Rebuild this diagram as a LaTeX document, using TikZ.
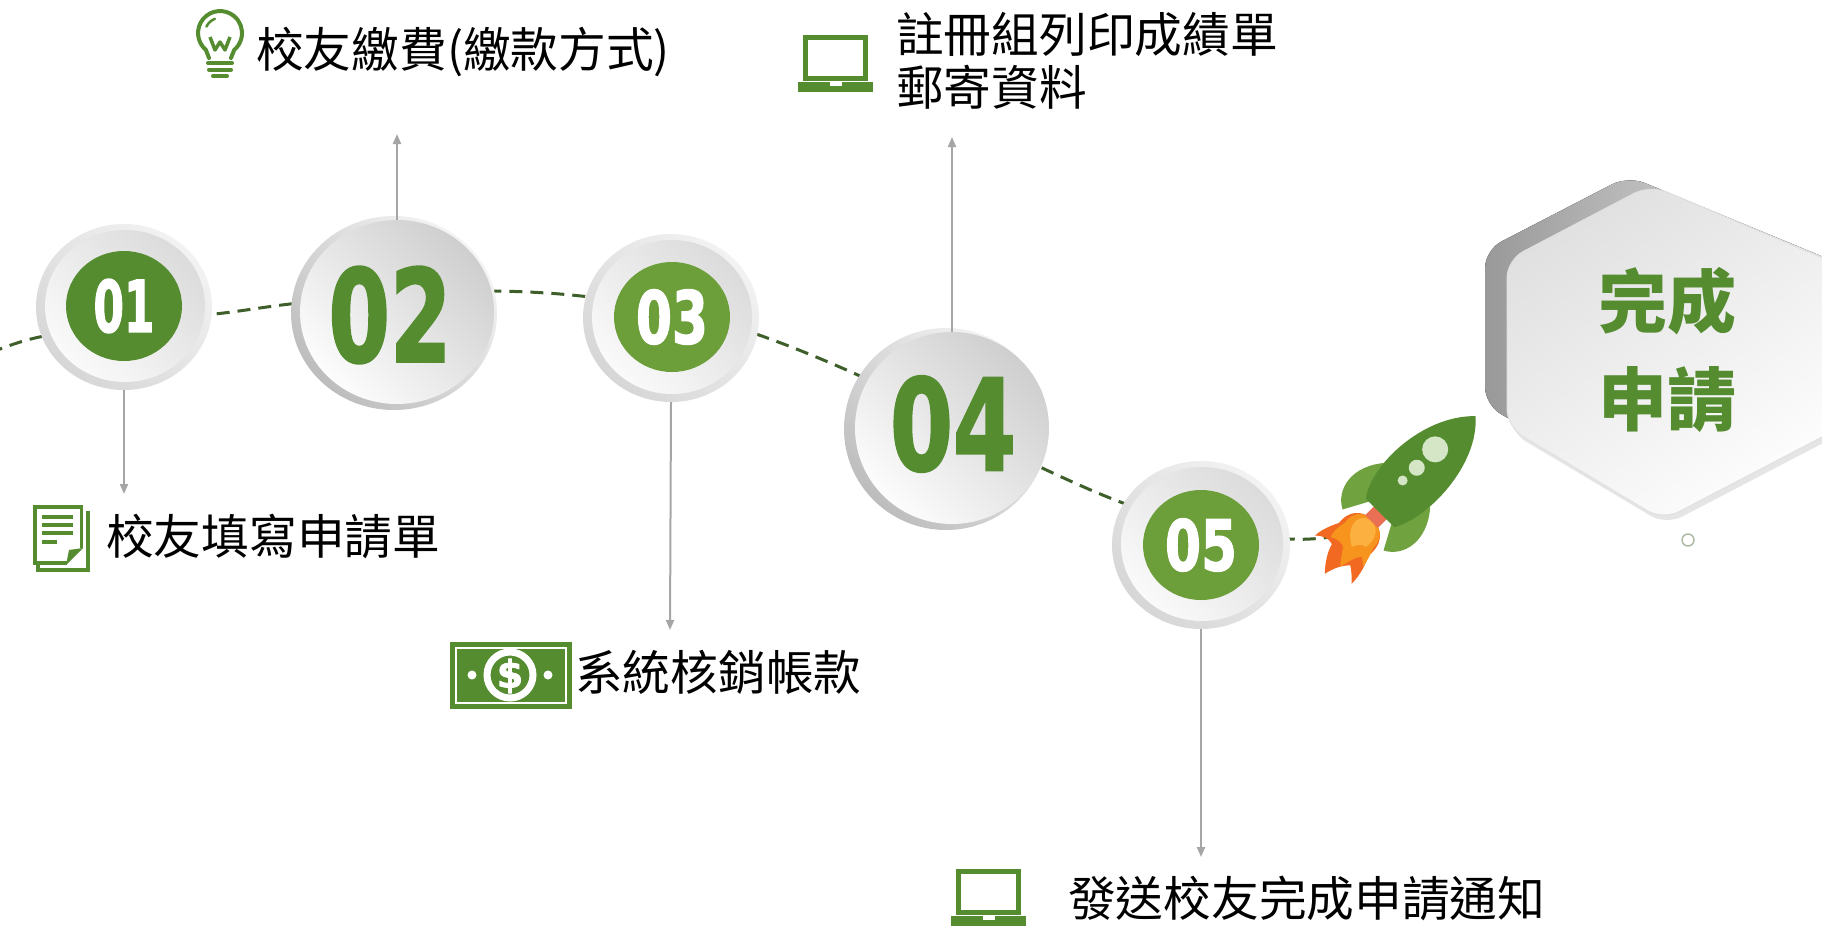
\documentclass[tikz,border=0pt]{standalone}
\usepackage{fontspec}
\usepackage{graphicx}
\usetikzlibrary{shapes.geometric,arrows.meta}
\newfontfamily\cjk{Noto Sans CJK TC}
\newfontfamily\numfont{DejaVu Sans}[BoldFeatures={FakeBold=2}]
\definecolor{leaf}{HTML}{548C2F}
\definecolor{leaflight}{HTML}{6C9E39}
\definecolor{finleaf}{HTML}{70A340}
\definecolor{trail}{HTML}{3E5F2A}
\definecolor{linkgray}{HTML}{A6A6A6}
\definecolor{glass}{HTML}{D4E6C6}
\definecolor{nozzle}{HTML}{E96F55}
\definecolor{flameout}{HTML}{F26A21}
\definecolor{flamemid}{HTML}{F7941D}
\definecolor{flamein}{HTML}{FBB040}
% big step number, squeezed into the given ink box
\newcommand\stepnum[3]{\resizebox{#1pt}{#2pt}{\numfont\bfseries #3}}
\tikzset{
  rimsmall/.style={ellipse, inner sep=0pt, shading=axis, top color=white!95!black, bottom color=white!84!black, shading angle=-45},
  facesmall/.style={ellipse, inner sep=0pt, shading=axis, top color=white!86!black, bottom color=white!98!black, shading angle=-45},
  rimbig/.style={ellipse, inner sep=0pt, shading=axis, top color=white!96!black, bottom color=white!74!black, shading angle=-45},
  facebig/.style={ellipse, inner sep=0pt, shading=axis, top color=white!81!black, bottom color=white!99!black, shading angle=-45},
  badge/.style={ellipse, inner sep=0pt, text=white},
  link/.style={linkgray, line width=2pt, -{Triangle[length=10pt,width=8pt]}},
  caption/.style={inner sep=0pt, anchor=west, text=black, font=\cjk\fontsize{47.7}{53}\selectfont},
  icon/.style={leaf, line width=4pt},
  laptop/.pic={
    \draw[leaf, line width=5pt] (7.5,2.5) rectangle (67.5,43.5);
    \fill[leaf] (0,47) -- (75,47) -- (75,57) -- (0,57) -- cycle;
    \fill[white] (32,47) rectangle (44,50.5);
  }
}
\begin{document}
\begin{tikzpicture}[x=1pt,y=-1pt]
\useasboundingbox (0,0) rectangle (1822,926);
\fill[white] (0,0) rectangle (1822,926);

% dashed trail behind the steps
\draw[trail, line width=3pt, dash pattern=on 13pt off 8pt]
  plot[smooth, tension=0.6] coordinates {(-10,353) (35,338) (124,322) (215,314) (290,304) (394,293) (494,291) (581,296) (671,310) (759,335) (860,376) (946,420) (1040,467) (1123,503) (1201,527) (1290,539) (1337,536)};

% final hexagon
\begin{scope}
\clip (0,0) rectangle (1822,926);
\fill[rounded corners=18pt, left color=white!60!black, right color=white!92!black]
  (1485,250) -- (1628,176) -- (1850,268) -- (1850,420) -- (1660,505) -- (1485,405) -- cycle;
\fill[rounded corners=18pt, white!90!black]
  (1510,265) -- (1653,190) -- (1873,283) -- (1873,417) -- (1666,525) -- (1510,432) -- cycle;
\path[rounded corners=18pt, shading=axis, top color=white!88!black, bottom color=white, shading angle=35, draw=white!88!black, line width=1pt]
  (1507,260) -- (1650,185) -- (1870,278) -- (1870,412) -- (1663,520) -- (1507,427) -- cycle;
\end{scope}
\node[inner sep=0pt, align=center, text=leaf, font=\cjk\bfseries\fontsize{69}{98}\selectfont] (done) at (1667,350) {完成\\申請};
\draw[white!55!gray!80!leaf, line width=1.5pt] (1688,540) circle[radius=6];

% step 01
\node[rimsmall, minimum width=176pt, minimum height=166pt] (s1) at (124,307) {};
\node[facesmall, minimum width=160pt, minimum height=152pt] (f1) at (125,306) {};
\node[badge, fill=leaf, minimum width=116pt, minimum height=110pt] (b1) at (124,306) {\stepnum{61}{53}{01}};
% step 02
\node[rimbig, minimum width=206pt, minimum height=194pt] (s2) at (394,313) {};
\node[facebig, minimum width=194pt, minimum height=184pt] (f2) at (397,312) {};
\node[inner sep=0pt, text=leaf] (n2) at (390,315) {\stepnum{123}{95}{02}};
% step 03
\node[rimsmall, minimum width=176pt, minimum height=168pt] (s3) at (671,318) {};
\node[facesmall, minimum width=160pt, minimum height=154pt] (f3) at (672,317) {};
\node[badge, fill=leaflight, minimum width=116pt, minimum height=110pt] (b3) at (672,317) {\stepnum{72}{54}{03}};
% step 04
\node[rimbig, minimum width=204pt, minimum height=202pt] (s4) at (946,429) {};
\node[facebig, minimum width=194pt, minimum height=192pt] (f4) at (952,428) {};
\node[inner sep=0pt, text=leaf] (n4) at (953,424) {\stepnum{126}{94}{04}};
% step 05
\node[rimsmall, minimum width=178pt, minimum height=168pt] (s5) at (1201,545) {};
\node[facesmall, minimum width=162pt, minimum height=154pt] (f5) at (1202,544) {};
\node[badge, fill=leaflight, minimum width=116pt, minimum height=110pt] (b5) at (1201,545) {\stepnum{72}{52}{05}};

% connectors
\coordinate (e1) at (124,494);
\coordinate (e2) at (397,134);
\coordinate (e3) at (670,630);
\coordinate (e4) at (952,137);
\coordinate (e5) at (1201,857);
\draw[link] (s1.south) -- (e1);
\draw[link] (f2.north) -- (e2);
\draw[link] (s3.south) -- (e3);
\draw[link] (f4.north) -- (e4);
\draw[link] (s5.south) -- (e5);

% captions
\node[caption] (t1) at (106,537) {校友填寫申請單};
\node[caption] (t2) at (256,52) {校友繳費(繳款方式)};
\node[caption] (t3) at (575,672) {系統核銷帳款};
\node[caption, align=left] (t4) at (896,61) {註冊組列印成績單\\郵寄資料};
\node[caption] (t5) at (1068,898) {發送校友完成申請通知};

% document icon
\draw[icon, line width=3.5pt] (88,511) -- (88,570) -- (38,570) -- (38,565);
\draw[icon, line width=3.5pt, line join=miter] (67,563) -- (34.75,563) -- (34.75,506.75) -- (81.25,506.75) -- (81.25,548);
\fill[leaf] (66,565) -- (83,548) -- (69,550) -- cycle;
\draw[leaf, line width=3.2pt] (42,517) -- (73,517) (42,525) -- (73,525) (42,533) -- (73,533) (42,542) -- (57,542);

% bulb icon
\draw[icon, line cap=round, line join=round] (209,58) -- (205.9,49.9) arc[start angle=130, end angle=410, radius=22] -- (231,58);
\draw[leaf, line width=2.5pt, line cap=round] (220,33) ++(205:15) arc[start angle=205, end angle=250, radius=15];
\draw[leaf, line width=3.5pt, line join=round] (210,37) -- (215,50) -- (220,42) -- (225,50) -- (230,37);
\draw[leaf, line width=4pt, line cap=round] (208,63) -- (232,63) (209,69.5) -- (231,69.5) (213,76) -- (227,76);

% money icon
\fill[leaf] (450,642) rectangle (572,709);
\draw[white, line width=1.5pt] (456,648) rectangle (566,703);
\draw[white, line width=7pt] (510,675) circle[radius=23];
\fill[white] (472,675) circle[radius=4.5] (548,675) circle[radius=4.5];
\node[inner sep=0pt, text=white, font=\numfont\bfseries\fontsize{38}{38}\selectfont] (dollar) at (510,676) {\$};

% laptop icons
\pic (lap4) at (798,35) {laptop};
\pic (lap5) at (951,869) {laptop};

% rocket
\begin{scope}[shift={(1380,513)}, rotate=45, yscale=-1]
  \fill[flameout] (-10,0) .. controls (-10,16) and (-22,24) .. (-36,22)
    .. controls (-44,26) and (-54,30) .. (-62,30)
    .. controls (-56,24) and (-54,18) .. (-56,12)
    .. controls (-64,10) and (-74,4) .. (-82,-4)
    .. controls (-72,-6) and (-64,-10) .. (-58,-16)
    .. controls (-62,-22) and (-66,-26) .. (-70,-30)
    .. controls (-58,-30) and (-46,-26) .. (-38,-22)
    .. controls (-22,-24) and (-10,-16) .. (-10,0) -- cycle;
  \fill[flamemid] (-10,0) .. controls (-10,14) and (-20,20) .. (-32,18)
    .. controls (-40,20) and (-46,20) .. (-52,18)
    .. controls (-48,12) and (-48,6) .. (-50,2)
    .. controls (-56,-2) and (-62,-6) .. (-66,-10)
    .. controls (-56,-12) and (-48,-14) .. (-44,-18)
    .. controls (-46,-22) and (-48,-24) .. (-50,-26)
    .. controls (-40,-24) and (-34,-22) .. (-30,-20)
    .. controls (-18,-20) and (-10,-14) .. (-10,0) -- cycle;
  \fill[flamein] (-12,0) .. controls (-12,10) and (-22,14) .. (-30,10)
    .. controls (-36,8) and (-40,2) .. (-44,-4)
    .. controls (-38,-6) and (-34,-10) .. (-34,-14)
    .. controls (-24,-16) and (-12,-12) .. (-12,0) -- cycle;
  \fill[nozzle] (-12,-9) rectangle (2,9);
  \fill[finleaf] (-24,29) .. controls (-14,48) and (14,54) .. (40,31) -- (0,16) -- cycle;
  \fill[finleaf] (-24,-29) .. controls (-14,-48) and (14,-54) .. (40,-31) -- (0,-16) -- cycle;
  \fill[leaf] (0,-20) -- (0,20) .. controls (25,40) and (98,40) .. (136,1)
    .. controls (104,-36) and (30,-38) .. (0,-20) -- cycle;
  \fill[glass] (84,6) circle[radius=13] (58,6) circle[radius=8] (39,7) circle[radius=5];
\end{scope}
\end{tikzpicture}
\end{document}
